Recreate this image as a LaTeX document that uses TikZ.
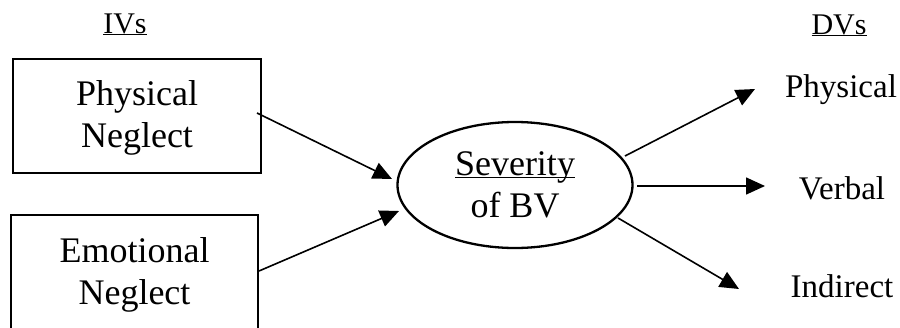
\documentclass[tikz,border=0pt]{standalone}
\usepackage{fontspec}
\setmainfont{Liberation Serif}
\usetikzlibrary{arrows.meta,shapes.geometric}
\newcommand\ulword[1]{\underline{\smash{#1}}\vphantom{#1}}
\tikzset{
  ivbox/.style={draw, line width=1.4pt, minimum width=247pt, inner sep=0pt, outer sep=0pt,
    align=center, font=\fontsize{36}{42}\selectfont},
  dvlabel/.style={anchor=base, inner sep=0pt, font=\fontsize{33}{38}\selectfont},
  headlabel/.style={anchor=base, inner sep=0pt, font=\fontsize{30}{34}\selectfont},
  conn/.style={line width=1.6pt, -{Triangle[length=19pt,width=17pt]}},
}
\begin{document}
\begin{tikzpicture}[x=1pt,y=-1pt]
\useasboundingbox (0,0) rectangle (900,327);
\fill[white] (0,0) rectangle (900,327);
\clip (0,0) rectangle (900,327);
% headers
\node[headlabel] (iv) at (125,33) {\ulword{IVs}};
\node[headlabel] (dv) at (839,34) {\ulword{DVs}};
% IV boxes
\draw[line width=1.4pt] (13,59) rectangle (261,173);
\draw[line width=1.4pt] (11,215) rectangle (258,340);
\node[ivbox, draw=none, minimum height=114pt] (b1) at (137,118) {Physical\\Neglect};
\node[ivbox, draw=none, minimum height=114pt] (b2) at (134.5,274.5) {Emotional\\Neglect};
% ellipse
\node[ellipse, draw, line width=2.3pt, minimum width=235pt, minimum height=126pt,
  inner sep=0pt, outer sep=0pt, align=center, font=\fontsize{36}{42}\selectfont]
  (ell) at (515,185) {\ulword{Severity}\\of BV};
% DV labels
\node[dvlabel] (d1) at (841,97) {Physical};
\node[dvlabel] (d2) at (842,199) {Verbal};
\node[dvlabel] (d3) at (842,297) {Indirect};
% arrow coordinates
\coordinate (s1) at (257,113);
\coordinate (t1) at (392,179);
\coordinate (s2) at (259,271);
\coordinate (t2) at (399,211);
\coordinate (r1) at (625,156);
\coordinate (u1) at (755,89);
\coordinate (r2) at (637,186);
\coordinate (u2) at (765,186);
\coordinate (r3) at (618,218);
\coordinate (u3) at (739,289);
\draw[conn] (s1) -- (t1);
\draw[conn] (s2) -- (t2);
\draw[conn] (r1) -- (u1);
\draw[conn] (r2) -- (u2);
\draw[conn] (r3) -- (u3);
\end{tikzpicture}
\end{document}
